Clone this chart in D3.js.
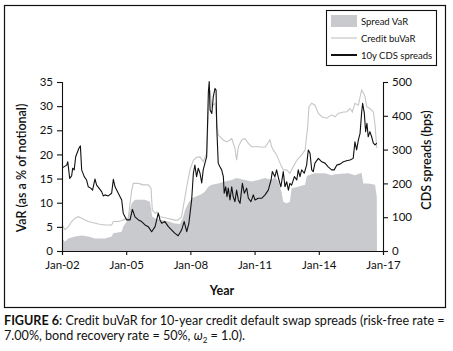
<!DOCTYPE html>
<html lang="en">
<head>
<meta charset="UTF-8">
<title>Credit buVaR for 10-year CDS spreads</title>
<script src="https://d3js.org/d3.v7.min.js"></script>
<style>
	body { margin: 0; background: #fff; }
	svg text { font-family: Lato, "Open Sans", sans-serif; fill: #111; }
</style>
</head>
<body>
<div id="chart"></div>
<script>

	// spread VaR (% of notional), shaded area - [decimal year, value]
	var spreadVaR = [
		[2002.01,2.6],[2002.14,1.9],[2002.29,2.6],[2002.61,3.0],[2002.92,3.2],[2003.23,3.0],
		[2003.54,2.6],[2004.01,2.6],[2004.32,3.0],[2004.40,3.7],[2004.79,4.0],[2004.86,5.0],
		[2005.02,6.1],[2005.26,9.9],[2005.41,10.6],[2005.88,10.6],[2006.11,10.2],[2006.22,7.1],
		[2006.35,6.8],[2006.66,6.4],[2006.97,6.1],[2007.28,5.7],[2007.51,5.6],[2007.67,7.1],
		[2007.75,8.5],[2007.90,9.9],[2008.06,10.9],[2008.21,11.2],[2008.53,11.8],[2008.68,12.3],
		[2008.84,13.3],[2009.00,13.7],[2009.30,14.0],[2009.62,14.4],[2009.93,14.7],[2010.16,15.1],
		[2010.55,14.7],[2010.86,14.4],[2011.17,14.7],[2011.49,15.1],[2011.80,14.7],[2011.95,15.4],
		[2012.11,14.4],[2012.27,12.0],[2012.34,10.2],[2012.50,9.9],[2012.65,10.2],[2012.73,13.0],
		[2013.04,13.3],[2013.36,13.7],[2013.43,15.4],[2013.51,15.7],[2013.82,16.1],[2014.29,16.1],
		[2014.60,15.7],[2014.76,15.9],[2015.38,16.1],[2015.69,15.7],[2016.00,16.2],[2016.08,14.0],
		[2016.31,14.0],[2016.63,13.7],[2016.71,11.2],[2016.72,0]
	];

	// credit buVaR (% of notional), light grey line
	var creditBuVaR = [
		[2002.01,5.4],[2002.14,4.4],[2002.29,5.0],[2002.45,6.1],[2002.61,6.8],[2002.76,7.1],
		[2002.92,6.8],[2003.23,6.1],[2003.70,5.6],[2004.01,5.4],[2004.32,5.4],[2004.40,6.1],
		[2004.63,6.1],[2004.79,6.3],[2004.94,6.6],[2005.10,6.8],[2005.18,9.9],[2005.26,12.6],
		[2005.33,14.0],[2005.57,14.0],[2005.80,13.7],[2006.03,13.7],[2006.16,13.0],[2006.22,8.5],
		[2006.35,7.8],[2006.43,8.1],[2006.58,7.1],[2006.81,6.9],[2007.28,6.4],[2007.43,6.4],
		[2007.59,7.1],[2007.67,9.2],[2007.83,13.3],[2007.98,16.8],[2008.14,18.8],[2008.29,19.4],
		[2008.45,19.5],[2008.60,18.5],[2008.76,20.2],[2008.84,28.5],[2008.92,33.3],[2009.00,29.9],
		[2009.15,30.6],[2009.23,27.1],[2009.30,24.0],[2009.38,23.7],[2009.54,23.0],[2009.70,22.6],
		[2009.85,23.0],[2009.93,23.3],[2010.08,21.3],[2010.16,18.8],[2010.24,21.6],[2010.40,23.0],
		[2010.55,23.3],[2010.71,22.3],[2010.86,21.6],[2011.17,21.6],[2011.49,21.5],[2011.72,23.0],
		[2011.80,21.6],[2011.88,20.9],[2012.03,19.9],[2012.19,18.2],[2012.34,16.8],[2012.50,16.8],
		[2012.65,16.1],[2012.81,17.5],[2012.97,18.8],[2013.20,19.9],[2013.36,20.9],[2013.48,25.7],
		[2013.54,29.9],[2013.67,30.6],[2013.82,30.2],[2013.98,28.5],[2014.14,27.8],[2014.37,27.5],
		[2014.60,28.2],[2014.76,27.8],[2014.91,28.5],[2015.15,28.8],[2015.30,28.8],[2015.46,29.5],
		[2015.57,28.8],[2015.69,30.6],[2015.85,30.2],[2016.00,33.3],[2016.08,32.8],[2016.16,32.0],
		[2016.24,29.9],[2016.39,29.5],[2016.55,28.8],[2016.63,26.1],[2016.71,21.3]
	];

	// 10y CDS spreads (bps), black line, right axis
	var cdsSpreads = [
		[2002.01,246],[2002.22,254],[2002.27,264],[2002.36,215],[2002.45,222],[2002.50,245],
		[2002.57,240],[2002.64,279],[2002.79,304],[2002.86,311],[2002.92,240],[2003.04,220],
		[2003.15,210],[2003.23,190],[2003.34,186],[2003.43,180],[2003.54,213],[2003.62,195],
		[2003.73,186],[2003.86,175],[2003.93,163],[2004.01,166],[2004.16,163],[2004.32,171],
		[2004.40,212],[2004.48,190],[2004.63,171],[2004.79,151],[2004.86,112],[2005.02,92],
		[2005.18,92],[2005.29,123],[2005.41,101],[2005.57,92],[2005.72,87],[2005.88,77],
		[2006.03,72],[2006.19,57],[2006.35,72],[2006.50,112],[2006.58,92],[2006.66,82],
		[2006.81,87],[2006.97,72],[2007.05,67],[2007.13,62],[2007.28,52],[2007.43,45],
		[2007.59,62],[2007.71,87],[2007.83,57],[2007.93,82],[2008.06,151],[2008.14,230],
		[2008.21,254],[2008.29,220],[2008.37,245],[2008.45,230],[2008.53,201],[2008.60,240],
		[2008.68,260],[2008.76,279],[2008.81,397],[2008.84,471],[2008.88,501],[2008.92,417],
		[2009.00,407],[2009.07,457],[2009.15,481],[2009.20,476],[2009.23,368],[2009.30,260],
		[2009.38,249],[2009.46,240],[2009.54,220],[2009.58,171],[2009.65,190],[2009.71,161],
		[2009.77,186],[2009.85,151],[2009.93,190],[2010.00,161],[2010.08,146],[2010.16,180],
		[2010.24,151],[2010.32,141],[2010.43,200],[2010.52,171],[2010.63,186],[2010.71,156],
		[2010.83,146],[2010.94,166],[2011.02,151],[2011.17,156],[2011.33,156],[2011.49,166],
		[2011.64,180],[2011.77,210],[2011.83,235],[2011.95,220],[2012.03,240],[2012.14,210],
		[2012.23,190],[2012.34,235],[2012.42,190],[2012.50,205],[2012.58,180],[2012.65,200],
		[2012.73,195],[2012.86,220],[2012.97,210],[2013.04,240],[2013.12,220],[2013.20,240],
		[2013.32,230],[2013.43,254],[2013.51,299],[2013.59,289],[2013.67,240],[2013.74,235],
		[2013.82,260],[2013.98,274],[2014.06,269],[2014.14,264],[2014.29,260],[2014.44,249],
		[2014.60,240],[2014.72,240],[2014.84,254],[2014.99,257],[2015.15,264],[2015.30,267],
		[2015.46,269],[2015.61,274],[2015.69,323],[2015.77,299],[2015.85,328],[2015.93,348],
		[2016.00,407],[2016.05,437],[2016.13,407],[2016.19,353],[2016.25,378],[2016.31,338],
		[2016.39,353],[2016.47,338],[2016.55,319],[2016.63,314],[2016.71,319]
	];

	var xTicks = [2002, 2005, 2008, 2011, 2014, 2017];
	var yLeftTicks = [0, 5, 10, 15, 20, 25, 30, 35];
	var yRightTicks = [0, 100, 200, 300, 400, 500];
	var legendLabels = ["Spread VaR", "Credit buVaR", "10y CDS spreads"];

	var w = 453;
	var h = 351;
	var areaFill = "#c9cacd";
	var lightLine = "#c6c6c6";
	var darkLine = "#111";

	// decimal year -> Date
	function toDate(yr) {
		var y = Math.floor(yr);
		var start = new Date(y, 0, 1);
		var end = new Date(y + 1, 0, 1);
		return new Date(start.getTime() + (yr - y) * (end - start));
	}

	var svg = d3.select("#chart").append("svg")
		.attr("width", w)
		.attr("height", h);

	// outer frame
	svg.append("rect")
		.attr("x", 4.5).attr("y", 5.5)
		.attr("width", 441).attr("height", 302)
		.attr("fill", "none").attr("stroke", "#111").attr("stroke-width", 1.2);

	var x = d3.scaleTime()
		.domain([toDate(2002), toDate(2017)])
		.range([62, 383]);
	var yL = d3.scaleLinear().domain([0, 35]).range([251, 82]);
	var yR = d3.scaleLinear().domain([0, 500]).range([251, 82]);

	var g = svg.append("g");

	// Spread VaR area
	g.append("path")
		.datum(spreadVaR)
		.attr("fill", areaFill)
		.attr("d", d3.area()
			.x(function (d) { return x(toDate(d[0])); })
			.y0(yL(0))
			.y1(function (d) { return yL(d[1]); }));

	// credit buVaR line
	g.append("path")
		.datum(creditBuVaR)
		.attr("fill", "none")
		.attr("stroke", lightLine)
		.attr("stroke-width", 1.1)
		.attr("d", d3.line()
			.x(function (d) { return x(toDate(d[0])); })
			.y(function (d) { return yL(d[1]); }));

	// CDS spreads line
	g.append("path")
		.datum(cdsSpreads)
		.attr("fill", "none")
		.attr("stroke", darkLine)
		.attr("stroke-width", 1.1)
		.attr("stroke-linejoin", "round")
		.attr("d", d3.line()
			.x(function (d) { return x(toDate(d[0])); })
			.y(function (d) { return yR(d[1]); }));

	// axes
	var fmt = d3.timeFormat("%b-%y");
	var xAxis = svg.append("g")
		.attr("transform", "translate(0," + yL(0) + ")")
		.call(d3.axisBottom(x)
			.tickValues(xTicks.map(toDate))
			.tickFormat(fmt)
			.tickSize(4)
			.tickPadding(6));

	var leftAxis = svg.append("g")
		.attr("transform", "translate(62,0)")
		.call(d3.axisLeft(yL).tickValues(yLeftTicks).tickSize(5).tickPadding(4));

	var rightAxis = svg.append("g")
		.attr("transform", "translate(383,0)")
		.call(d3.axisRight(yR).tickValues(yRightTicks).tickSize(5).tickPadding(4));

	[xAxis, leftAxis, rightAxis].forEach(function (a) {
		a.select(".domain").attr("stroke", "#111").attr("stroke-width", 1.1);
		a.selectAll(".tick line").attr("stroke", "#111").attr("stroke-width", 1.1);
		a.selectAll(".tick text")
			.attr("font-family", "Lato, sans-serif")
			.attr("font-size", 11.5)
			.attr("fill", "#111");
	});

	// axis titles
	svg.append("text")
		.attr("x", 222).attr("y", 295)
		.attr("text-anchor", "middle")
		.attr("font-size", 12.5).attr("font-weight", "bold")
		.text("Year");

	svg.append("text")
		.attr("transform", "translate(26,168) rotate(-90)")
		.attr("text-anchor", "middle")
		.attr("font-size", 12.5).attr("font-weight", 600)
		.text("VaR (as a % of notional)");

	svg.append("text")
		.attr("transform", "translate(431,160) rotate(-90)")
		.attr("text-anchor", "middle")
		.attr("font-size", 12.5).attr("font-weight", 600)
		.text("CDS spreads (bps)");

	// legend
	var leg = svg.append("g");
	leg.append("rect")
		.attr("x", 326.5).attr("y", 10.5)
		.attr("width", 110).attr("height", 55)
		.attr("fill", "#fff").attr("stroke", "#111").attr("stroke-width", 1.1);

	var rowY = [21, 38, 55];
	leg.append("rect")
		.attr("x", 331).attr("y", rowY[0] - 6)
		.attr("width", 26).attr("height", 12)
		.attr("fill", areaFill);
	leg.append("line")
		.attr("x1", 331).attr("x2", 357)
		.attr("y1", rowY[1]).attr("y2", rowY[1])
		.attr("stroke", lightLine).attr("stroke-width", 1.2);
	leg.append("line")
		.attr("x1", 331).attr("x2", 357)
		.attr("y1", rowY[2]).attr("y2", rowY[2])
		.attr("stroke", darkLine).attr("stroke-width", 2);

	leg.selectAll("text.lab")
		.data(legendLabels)
		.enter().append("text")
		.attr("class", "lab")
		.attr("x", 361)
		.attr("y", function (d, i) { return rowY[i] + 3.5; })
		.attr("font-size", 9.5)
		.text(function (d) { return d; });

	// caption - first line sized to span the frame width
	var capSize = 12;
	var cap1 = svg.append("text")
		.attr("x", 4).attr("y", 325)
		.attr("font-size", capSize);
	cap1.append("tspan").attr("font-weight", "bold").text("FIGURE 6");
	cap1.append("tspan").text(": Credit buVaR for 10-year credit default swap spreads (risk-free rate =");
	var len = cap1.node().getComputedTextLength();
	if (len > 0) {
		capSize = Math.min(13, capSize * 441 / len);
		cap1.attr("font-size", capSize);
	}

	var cap2 = svg.append("text")
		.attr("x", 4).attr("y", 339.5)
		.attr("font-size", capSize);
	cap2.append("tspan").text("7.00%, bond recovery rate = 50%, ");
	cap2.append("tspan").attr("font-style", "italic").text("\u03C9");
	cap2.append("tspan").attr("font-size", 8).attr("dy", 3).text("2");
	cap2.append("tspan").attr("dy", -3).text(" = 1.0).");

</script>
</body>
</html>
